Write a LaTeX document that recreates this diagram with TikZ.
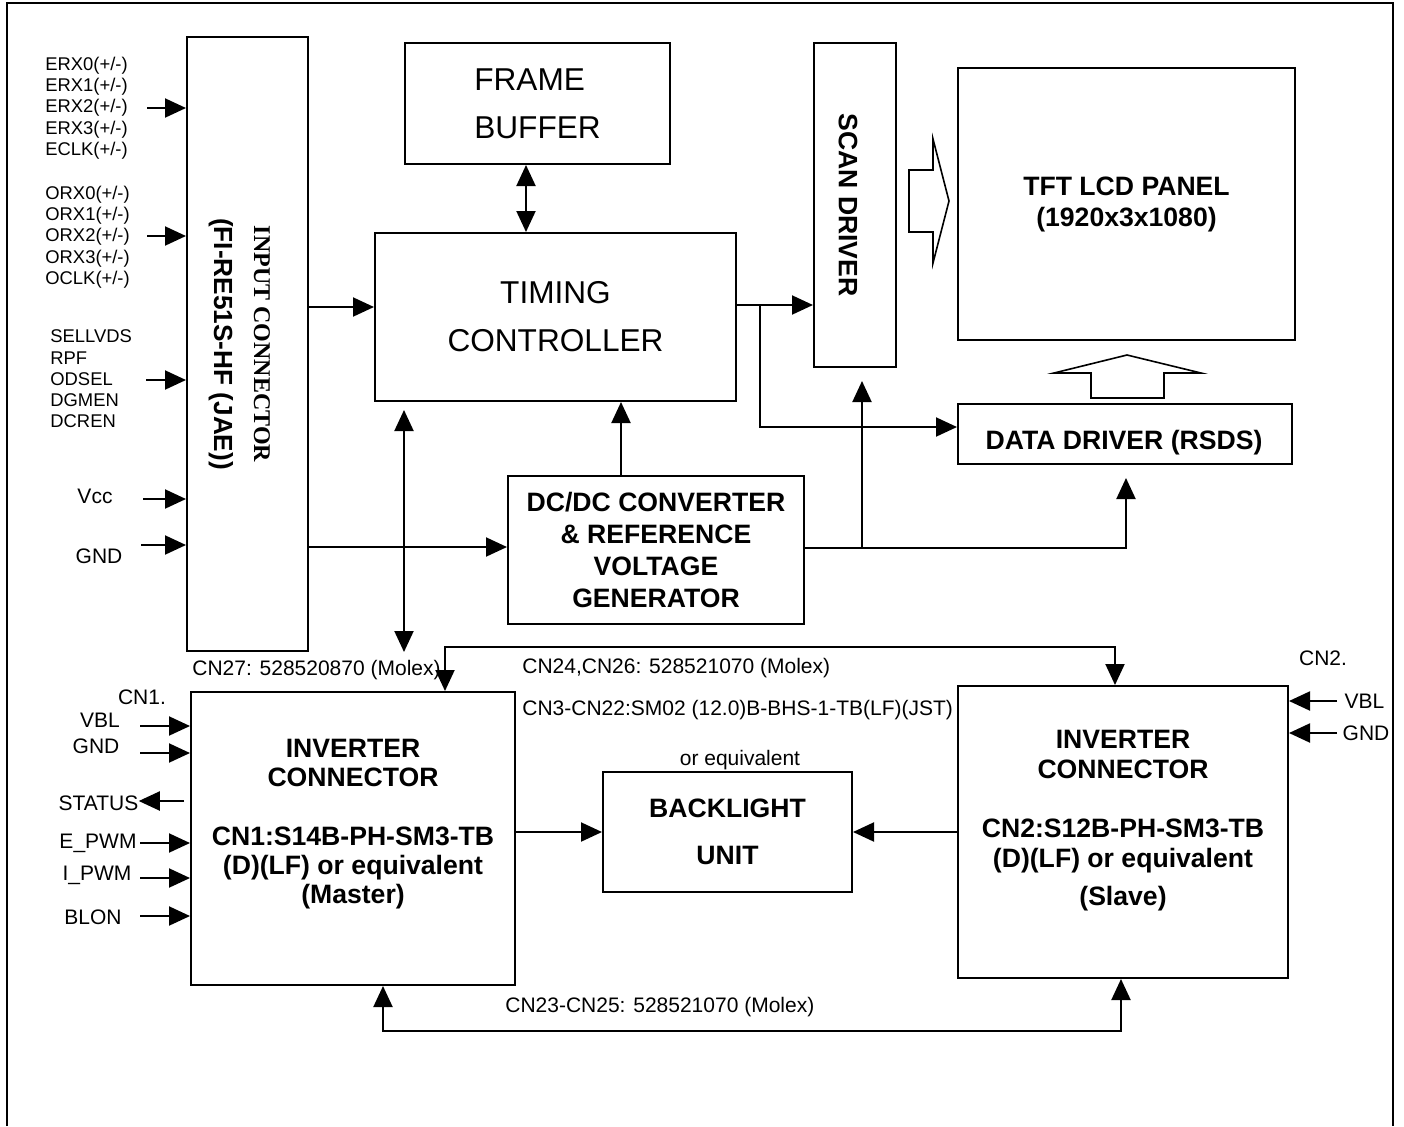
\documentclass[tikz,border=0pt]{standalone}
\usepackage{fontspec}
\setmainfont{Liberation Sans}
\newfontfamily\serifbody{Liberation Serif}
\usetikzlibrary{arrows.meta,calc}
\tikzset{
  blk/.style 2 args={draw, line width=1pt, minimum width=#1*0.5pt, minimum height=#2*0.5pt, inner sep=0pt, align=center},
  btxt/.style={font=\fontsize{13.3}{#1}\selectfont\bfseries, align=center, inner sep=0pt},
  btxt/.default=15.5,
  rtxt/.style={font=\fontsize{15.8}{24}\selectfont, inner sep=0pt},
  sigtxt/.style={font=\fontsize{9.2}{10.65}\selectfont, align=left, inner sep=0pt},
  lbl/.style={font=\fontsize{10.5}{12}\selectfont, inner sep=0pt},
  sig/.style={line width=1pt, -{Triangle[length=10.5pt,width=9.5pt]}},
  dsig/.style={line width=1pt, {Triangle[length=10.5pt,width=9.5pt]}-{Triangle[length=10.5pt,width=9.5pt]}},
  hollow/.style={line width=0.8pt, line join=miter}
}
\begin{document}
\begin{tikzpicture}[x=0.5pt, y=-0.5pt]
    \useasboundingbox (0,0) rectangle (1404,1126);
    \draw[line width=1pt] (7,1126) -- (7,3) -- (1393,3) -- (1393,1126);

    \node[blk={121}{614}] (conn) at (247.5,344) {};
    \node[rotate=-90, font=\fontsize{13.1}{15}\selectfont\bfseries] (connpart) at (221,344) {(FI-RE51S-HF (JAE))};
    \node[rotate=-90, font=\fontsize{12}{14}\selectfont\serifbody\bfseries] (conntitle) at (262,344) {INPUT CONNECTOR};
    \node[blk={265}{121}, rtxt, align=left] (frame) at (537.5,103.5) {FRAME\\BUFFER};
    \node[blk={361}{168}, rtxt, align=center] (timing) at (555.5,317) {TIMING\\CONTROLLER};
    \node[blk={82}{324}] (scan) at (855,205) {};
    \node[btxt, rotate=-90] (scantxt) at (848,205) {SCAN DRIVER};
    \node[blk={337}{272}, btxt] (panel) at (1126.5,204) {TFT LCD PANEL\\(1920x3x1080)};
    \node[blk={334}{60}] (data) at (1125,434) {};
    \node[btxt] (datatxt) at (1124,443) {DATA DRIVER (RSDS)};
    \node[blk={296}{148}, btxt=16.15] (dcdc) at (656,550) {DC/DC CONVERTER\\\& REFERENCE\\VOLTAGE\\GENERATOR};
    \node[blk={249}{120}, btxt=23.5] (backlight) at (727.5,832) {BACKLIGHT\\UNIT};
    \node[blk={324}{293}] (master) at (353,838.5) {};
    \node[btxt=14.6] (mastertxt) at (353,824) {INVERTER\\CONNECTOR\\[14.6pt]CN1:S14B-PH-SM3-TB\\(D)(LF) or equivalent\\(Master)};
    \node[blk={330}{292}] (slave) at (1123,832) {};
    \node[btxt=14.8] (slavetxt) at (1123,821) {INVERTER\\CONNECTOR\\[14.8pt]CN2:S12B-PH-SM3-TB\\(D)(LF) or equivalent\\[4.5pt](Slave)};

    \node[sigtxt, anchor=west] (erx) at (45,108) {ERX0(+/-)\\ERX1(+/-)\\ERX2(+/-)\\ERX3(+/-)\\ECLK(+/-)};
    \node[sigtxt, anchor=west] (orx) at (45,237) {ORX0(+/-)\\ORX1(+/-)\\ORX2(+/-)\\ORX3(+/-)\\OCLK(+/-)};
    \node[sigtxt, anchor=west] (sel) at (50,379) {SELLVDS\\RPF\\ODSEL\\DGMEN\\DCREN};
    \node[lbl] (vcc) at (95,496) {Vcc};
    \node[lbl] (gndin) at (99,556) {GND};
    \foreach \nm/\ax/\ay in {erx/147/108, orx/147/236, sel/146/380, vcc/143/499, gndin/141/545}{
        \coordinate (in\nm) at (\ax,\ay);
        \draw[sig] (in\nm) -- (in\nm -| conn.west);
    }

    \draw[sig] (conn.east |- 0,307) -- (timing.west |- 0,307);
    \draw[sig] (conn.east |- 0,547) -- (dcdc.west |- 0,547);
    \draw[dsig] (frame.south -| 526,0) -- (timing.north -| 526,0);
    \draw[dsig] ($(timing.south -| 404,0)+(0,8)$) -- (conn.south -| 404,0);
    \draw[sig] (dcdc.north -| 621,0) -- (timing.south -| 621,0);
    \draw[sig] (timing.east |- 0,305) -- (scan.west |- 0,305);
    \coordinate (tsplit) at (760,305);
    \draw[sig] (tsplit) |- (data.west |- 0,427);
    \draw[sig] (dcdc.east |- 0,548) -| ($(data.south -| 1126,0)+(0,13)$);
    \coordinate (dsplit) at (862,548);
    \draw[sig] (dsplit) -- ($(scan.south -| dsplit)+(0,13)$);

    \draw[hollow] (909,170) -- (933,170) -- (933,139) -- (949,201) -- (933,263) -- (933,232) -- (909,232) -- cycle;
    \draw[hollow] (1091,398) -- (1091,373) -- (1054,373) -- (1127,355) -- (1201,373) -- (1164,373) -- (1164,398) -- cycle;

    \node[lbl, anchor=west] (cn27) at (192,670) {CN27: 528520870 (Molex)};
    \node[lbl, anchor=west] (cn24) at (522,668) {CN24,CN26: 528521070 (Molex)};
    \node[lbl, anchor=west] (cn3) at (522,710) {CN3-CN22:SM02 (12.0)B-BHS-1-TB(LF)(JST)};
    \node[lbl] (orequiv) at (740,760) {or equivalent};
    \node[lbl, anchor=west] (cn23) at (505,1007) {CN23-CN25: 528521070 (Molex)};

    \draw[dsig] (master.north -| 445,0) -- ++(0,-44) -| (slave.north -| 1115,0);
    \draw[dsig] (master.south -| 383,0) -- ++(0,45) -| (slave.south -| 1121,0);
    \draw[sig] (master.east |- backlight.west) -- (backlight.west);
    \draw[sig] (slave.west |- backlight.east) -- (backlight.east);

    \node[lbl] (cn1) at (142,697) {CN1.};
    \foreach \nm/\txt/\tx/\ty/\ay in {vbl/VBL/100/720/726, gndbl/GND/96/746/753, epwm/E\_PWM/98/843/843, ipwm/I\_PWM/97/875/878, blon/BLON/93/917/916}{
        \node[lbl] (\nm) at (\tx,\ty) {\txt};
        \coordinate (in\nm) at (140,\ay);
        \draw[sig] (in\nm) -- (in\nm -| master.west);
    }
    \node[lbl] (status) at (98.5,803) {STATUS};
    \coordinate (outst) at (184,801);
    \draw[sig] (outst) -- (outst -| status.east);

    \node[lbl] (cn2) at (1323,658) {CN2.};
    \node[lbl] (vblb) at (1364.5,701) {VBL};
    \node[lbl] (gndb) at (1366,733) {GND};
    \foreach \nm in {vblb, gndb}{
        \coordinate (in\nm) at (1337,0 |- \nm);
        \draw[sig] (in\nm) -- (in\nm -| slave.east);
    }
\end{tikzpicture}
\end{document}
